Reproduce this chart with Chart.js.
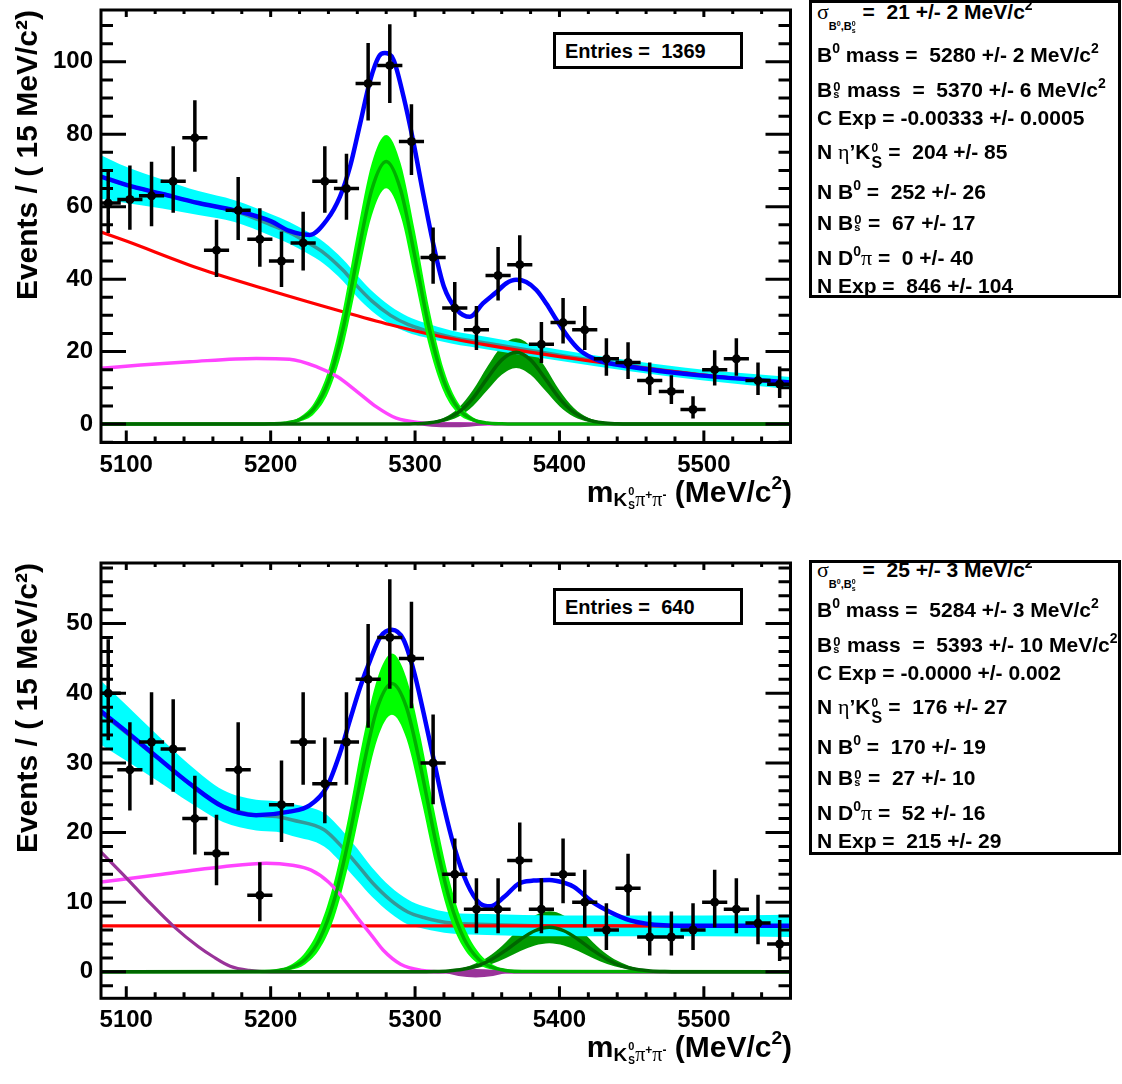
<!DOCTYPE html>
<html lang="en">
<head>
<meta charset="UTF-8">
<title>K0S pi+ pi- mass fits</title>
<script src="https://cdn.jsdelivr.net/npm/chart.js"></script>
<style>
  body { margin: 0; background: #fff; font-family: 'Liberation Sans', Arial, sans-serif; font-weight: bold; color: #000; }
  #page { position: relative; width: 1122px; height: 1084px; overflow: hidden; }
  canvas { position: absolute; left: 0; }
  .box { position: absolute; border: 3px solid #000; box-sizing: border-box; background: #fff; }
  .stats { position: absolute; left: 809px; width: 312px; overflow: hidden; }
  .stats .frame { position: absolute; left: 0; top: 0; right: 0; bottom: 0; border: 3px solid #000; box-sizing: border-box; }
  .ln { position: absolute; left: 8px; font-size: 21px; line-height: 21px; white-space: pre; }
  .sy { font-family: 'Liberation Serif', serif; font-weight: normal; font-size: 22px; }
  .up { position: relative; font-size: 14px; top: -9px; }
  .stk { display: inline-block; position: relative; width: 9px; height: 1px; }
  .stk .a { position: absolute; left: 1px; bottom: 4px; font-size: 13px; line-height: 13px; }
  .stk .b { position: absolute; left: 1px; top: -7px; font-size: 11px; line-height: 11px; }
  .stk.kk { width: 12px; }
  .stk.kk .a { font-size: 12px; line-height: 12px; bottom: 5px; }
  .stk.kk .b { font-size: 16px; line-height: 16px; top: -3px; }
  .s1 { position: relative; top: 11px; font-size: 11px; }
  .s1 .u { position: relative; top: -4px; font-size: 7px; }
  .s1 .k { display: inline-block; position: relative; width: 5px; height: 1px; }
  .s1 .k .a { position: absolute; left: 0; bottom: 3px; font-size: 7px; line-height: 7px; }
  .s1 .k .b { position: absolute; left: 0; top: -2px; font-size: 7px; line-height: 7px; }
  .entries { left: 553px; width: 190px; height: 37px; }
  .entries span { position: absolute; left: 9px; top: 6px; font-size: 20px; line-height: 20px; white-space: pre; }
  .xt { position: absolute; right: 330px; font-size: 30px; line-height: 30px; white-space: pre; }
  .xs { position: relative; top: 4px; font-size: 19px; }
  .xs .sy { font-size: 20px; }
  .xk { display: inline-block; position: relative; width: 8px; height: 1px; }
  .xk .a { position: absolute; left: 1px; bottom: 9px; font-size: 11px; line-height: 11px; }
  .xk .b { position: absolute; left: 1px; top: -4px; font-size: 10px; line-height: 10px; }
  .xu { position: relative; top: -7px; font-size: 12px; }
  .xu2 { position: relative; top: -13px; font-size: 19px; }
</style>
</head>
<body>
<div id="page">
  <canvas id="topChart" width="800" height="545" style="top:0"></canvas>
  <canvas id="botChart" width="800" height="534" style="top:550px"></canvas>

  <div class="box entries" style="top:32px"><span>Entries =  1369</span></div>
  <div class="box entries" style="top:588px"><span>Entries =  640</span></div>

  <div class="xt" style="top:477px">m<span class="xs">K<span class="xk"><span class="a">0</span><span class="b">S</span></span><span class="sy">π</span><span class="xu">+</span><span class="sy">π</span><span class="xu">-</span></span> (MeV/c<span class="xu2">2</span>)</div>
  <div class="xt" style="top:1032px">m<span class="xs">K<span class="xk"><span class="a">0</span><span class="b">S</span></span><span class="sy">π</span><span class="xu">+</span><span class="sy">π</span><span class="xu">-</span></span> (MeV/c<span class="xu2">2</span>)</div>

  <div class="stats" style="top:0;height:298px">
    <div class="frame"></div>
    <div class="ln" style="top:1px"><span class="sy">σ</span><span class="s1">B<span class="u">0</span>,B<span class="k"><span class="a">0</span><span class="b">s</span></span></span> =  21 +/- 2 MeV/c<span class="up">2</span></div>
    <div class="ln" style="top:44px">B<span class="up">0</span> mass =  5280 +/- 2 MeV/c<span class="up">2</span></div>
    <div class="ln" style="top:79px">B<span class="stk"><span class="a">0</span><span class="b">s</span></span> mass  =  5370 +/- 6 MeV/c<span class="up">2</span></div>
    <div class="ln" style="top:107px">C Exp = -0.00333 +/- 0.0005</div>
    <div class="ln" style="top:141px">N <span class="sy">η</span>’K<span class="stk kk"><span class="a">0</span><span class="b">S</span></span> =  204 +/- 85</div>
    <div class="ln" style="top:181px">N B<span class="up">0</span> =  252 +/- 26</div>
    <div class="ln" style="top:212px">N B<span class="stk"><span class="a">0</span><span class="b">s</span></span> =  67 +/- 17</div>
    <div class="ln" style="top:247px">N D<span class="up">0</span><span class="sy">π</span> =  0 +/- 40</div>
    <div class="ln" style="top:275px">N Exp =  846 +/- 104</div>
  </div>

  <div class="stats" style="top:560px;height:295px">
    <div class="frame"></div>
    <div class="ln" style="top:-1px"><span class="sy">σ</span><span class="s1">B<span class="u">0</span>,B<span class="k"><span class="a">0</span><span class="b">s</span></span></span> =  25 +/- 3 MeV/c<span class="up">2</span></div>
    <div class="ln" style="top:39px">B<span class="up">0</span> mass =  5284 +/- 3 MeV/c<span class="up">2</span></div>
    <div class="ln" style="top:74px">B<span class="stk"><span class="a">0</span><span class="b">s</span></span> mass  =  5393 +/- 10 MeV/c<span class="up">2</span></div>
    <div class="ln" style="top:102px">C Exp = -0.0000 +/- 0.002</div>
    <div class="ln" style="top:136px">N <span class="sy">η</span>’K<span class="stk kk"><span class="a">0</span><span class="b">S</span></span> =  176 +/- 27</div>
    <div class="ln" style="top:176px">N B<span class="up">0</span> =  170 +/- 19</div>
    <div class="ln" style="top:207px">N B<span class="stk"><span class="a">0</span><span class="b">s</span></span> =  27 +/- 10</div>
    <div class="ln" style="top:242px">N D<span class="up">0</span><span class="sy">π</span> =  52 +/- 16</div>
    <div class="ln" style="top:270px">N Exp =  215 +/- 29</div>
  </div>
</div>

<script>
// bin centres of the 15 MeV histogram bins
const massBins = [5087.5, 5102.5, 5117.5, 5132.5, 5147.5, 5162.5, 5177.5, 5192.5, 5207.5, 5222.5, 5237.5, 5252.5, 5267.5, 5282.5, 5297.5, 5312.5,
                  5327.5, 5342.5, 5357.5, 5372.5, 5387.5, 5402.5, 5417.5, 5432.5, 5447.5, 5462.5, 5477.5, 5492.5, 5507.5, 5522.5, 5537.5, 5552.5];
const xMajorTicks = [5100, 5200, 5300, 5400, 5500];

// ---- upper plot ----
const topCounts = [61, 62, 63, 67, 79, 48, 59, 51, 45, 50, 67, 65, 94, 99, 78, 46, 32, 26, 41, 44, 22, 28, 26, 18, 17, 12, 9, 4, 15, 18, 12, 11];
const topErrUp  = [8.8, 8.9, 8.9, 9.2, 9.9, 7.9, 8.7, 8.1, 7.7, 8.1, 9.2, 9.1, 10.7, 10.9, 9.8, 7.8, 6.7, 6.1, 7.4, 7.6, 5.7, 6.3, 6.1, 5.2, 5.1, 4.5, 4, 3.2, 4.9, 5.2, 4.5, 4.4];
const topErrLo  = [7.8, 7.9, 7.9, 8.2, 8.9, 6.9, 7.7, 7.1, 6.7, 7.1, 8.2, 8.1, 9.7, 9.9, 8.8, 6.8, 5.7, 5.1, 6.4, 6.6, 4.7, 5.3, 5.1, 4.2, 4.1, 3.5, 3, 2, 3.9, 4.2, 3.5, 3.3];
const topYMajor = [0, 20, 40, 60, 80, 100];

const topTotalX = [5082.5, 5100, 5125, 5150, 5175, 5200, 5213, 5227, 5239, 5248, 5255, 5262, 5269, 5275, 5279, 5285, 5292, 5299, 5306, 5313, 5320,
                   5329, 5338, 5347, 5356, 5363, 5370, 5377, 5384, 5391, 5398, 5406, 5414, 5426, 5449, 5495, 5560];
const topTotalY = [68.3, 66, 63.5, 61, 59, 56, 53.3, 52.2, 56.4, 62.8, 71.1, 83, 95, 101.5, 102.4, 100.6, 90.4, 77.5, 62.8, 49, 37.9,
                   31.5, 29.6, 33.3, 36.3, 38.8, 39.8, 39.2, 37, 33.2, 28.7, 24, 20.4, 17.7, 15.8, 13.5, 11.5];

const topBkgX   = [5082.5, 5100, 5125, 5150, 5175, 5200, 5213, 5225, 5237, 5250, 5260, 5270, 5283, 5295, 5306, 5325, 5350, 5400, 5450, 5500, 5560];
const topBkgMid = [68.2, 66, 63.5, 61, 58.8, 55, 52.8, 50.2, 47.2, 42.5, 38, 34, 30, 27.5, 26, 24, 22.3, 19, 16, 13.5, 11.3];
const topBkgHi  = [74.2, 71, 67.5, 64.3, 61.8, 58, 55.8, 53.2, 50.2, 45.5, 41, 36.8, 32.5, 29.7, 28, 25.8, 24, 20.5, 17.5, 15, 13];
const topBkgLo  = [62.2, 61, 59.5, 57.7, 55.8, 52, 49.8, 47.2, 44.2, 39.5, 35, 31.2, 27.5, 25.3, 24, 22.2, 20.6, 17.5, 14.5, 12, 9.6];

const topExpX = [5082.5, 5100, 5150, 5200, 5250, 5283, 5310, 5350, 5400, 5450, 5500, 5560];
const topExpY = [53, 50.5, 43, 36.8, 31, 27.4, 24.8, 21.8, 18.6, 15.9, 13.5, 11.2];

const topEtaX = [5082.5, 5110, 5144, 5190, 5213, 5232, 5246, 5260, 5273, 5287, 5305, 5320, 5560];
const topEtaY = [15.4, 16.3, 17.2, 18.1, 17.9, 15.8, 13.1, 8.9, 4.8, 1.6, 0.3, 0, 0];

const topB0X   = [5082.5, 5190, 5200, 5210, 5220, 5230, 5240, 5250, 5260, 5270, 5280, 5290, 5300, 5310, 5320, 5330, 5340, 5350, 5360, 5370, 5560];
const topB0Mid = [0, 0, 0.05, 0.28, 1.23, 4.26, 11.8, 26.1, 46, 64.7, 72.5, 64.7, 46, 26.1, 11.8, 4.26, 1.23, 0.28, 0.05, 0, 0];
const topB0Hi  = [0, 0.02, 0.1, 0.5, 1.9, 5.8, 15, 31.5, 53, 72, 79.8, 72, 53, 31.5, 15, 5.8, 1.9, 0.5, 0.1, 0.02, 0];
const topB0Lo  = [0, 0, 0.02, 0.13, 0.7, 2.8, 8.8, 21, 39.5, 57.5, 65.1, 57.5, 39.5, 21, 8.8, 2.8, 0.7, 0.13, 0.02, 0, 0];

const topBsX   = [5082.5, 5280, 5290, 5300, 5310, 5320, 5330, 5340, 5350, 5360, 5370, 5380, 5390, 5400, 5410, 5420, 5430, 5440, 5450, 5460, 5560];
const topBsMid = [0, 0, 0.01, 0.08, 0.33, 1.16, 3.2, 7.1, 12.6, 17.7, 19.8, 17.7, 12.6, 7.1, 3.2, 1.16, 0.33, 0.08, 0.01, 0, 0];
const topBsHi  = [0, 0, 0.03, 0.14, 0.55, 1.7, 4.4, 9.3, 15.8, 21.5, 23.7, 21.5, 15.8, 9.3, 4.4, 1.7, 0.55, 0.14, 0.03, 0, 0];
const topBsLo  = [0, 0, 0, 0.03, 0.15, 0.6, 2, 4.9, 9.3, 13.6, 15.5, 13.6, 9.3, 4.9, 2, 0.6, 0.15, 0.03, 0, 0, 0];

const topD0X  = [5292, 5305, 5318, 5331, 5344, 5357];
const topD0Hi = [0, 0.3, 0.5, 0.5, 0.3, 0];
const topD0Lo = [0, -0.5, -0.9, -0.9, -0.5, 0];

// ---- lower plot ----
const botCounts = [40, 29, 33, 32, 22, 17, 29, 11, 24, 33, 27, 33, 42, 48, 45, 30, 14, 9, 9, 16, 9, 14, 10, 6, 12, 5, 5, 6, 10, 9, 7, 4];
const botErrUp  = [7.5, 6.6, 6.9, 6.9, 5.9, 5.3, 6.6, 4.5, 6.1, 6.9, 6.4, 6.9, 7.7, 8.1, 7.9, 6.7, 4.9, 4.2, 4.2, 5.2, 4.2, 4.9, 4.4, 3.6, 4.7, 3.4, 3.4, 3.6, 4.4, 4.2, 3.8, 3.2];
const botErrLo  = [6.5, 5.6, 5.9, 5.9, 4.9, 4.3, 5.6, 3.5, 5.1, 5.9, 5.4, 5.9, 6.7, 7.1, 6.9, 5.7, 3.9, 3.2, 3.2, 4.2, 3.2, 3.9, 3.4, 2.6, 3.7, 2.4, 2.4, 2.6, 3.4, 3.2, 2.8, 2.2];
const botYMajor = [0, 10, 20, 30, 40, 50];

const botTotalX = [5082.5, 5100, 5121, 5144, 5167, 5190, 5213, 5227, 5239, 5248, 5255, 5262, 5269, 5276, 5284, 5292, 5299, 5306, 5313, 5320,
                   5327, 5336, 5345, 5352, 5362, 5372, 5382, 5393, 5403, 5410, 5423, 5435, 5449, 5472, 5510, 5560];
const botTotalY = [37.4, 34.5, 30.9, 27, 23.7, 22.5, 23, 23.9, 26.6, 31.4, 36.2, 40.9, 44.8, 48.1, 49.1, 47.7, 43.3, 37.1, 30.4, 23.7,
                   18, 12.7, 9.8, 9.4, 10.8, 12.7, 13.1, 13.2, 12.8, 12.2, 10, 8.6, 7.4, 6.7, 6.6, 6.6];

const botBkgX   = [5082.5, 5100, 5121, 5144, 5167, 5190, 5204, 5215, 5237, 5250, 5260, 5270, 5283, 5295, 5306, 5325, 5350, 5400, 5450, 5500, 5560];
const botBkgMid = [37.2, 34.3, 30.8, 27, 23.8, 22.5, 22.3, 21.8, 20.4, 17.8, 15.4, 12.9, 10.3, 8.6, 7.8, 7.0, 6.8, 6.6, 6.6, 6.6, 6.6];
const botBkgHi  = [41.8, 38.3, 34.1, 29.7, 26.1, 24.7, 24.5, 24.1, 22.8, 20.2, 17.7, 15, 12.2, 10.4, 9.4, 8.5, 8.3, 8.1, 8.1, 8.1, 8.2];
const botBkgLo  = [32.6, 30.3, 27.5, 24.3, 21.5, 20.3, 20.1, 19.5, 18, 15.4, 13.1, 10.8, 8.4, 6.8, 6.2, 5.5, 5.3, 5.1, 5.1, 5.1, 5.0];

const botExpX = [5082.5, 5560];
const botExpY = [6.6, 6.6];

const botEtaX = [5082.5, 5121, 5167, 5197, 5215, 5228, 5240, 5250, 5260, 5270, 5278, 5290, 5305, 5320, 5560];
const botEtaY = [12.9, 13.9, 15.1, 15.6, 15.3, 14.6, 12.9, 10.6, 7.8, 5.2, 3.1, 1.1, 0.2, 0, 0];

const botD0LineX = [5082.5, 5100, 5115, 5133, 5150, 5160, 5172, 5185, 5200, 5560];
const botD0LineY = [17.2, 13.5, 10.2, 6.5, 3.6, 2.2, 0.8, 0.2, 0, 0];

const botB0X   = [5082.5, 5194, 5204, 5214, 5224, 5234, 5244, 5254, 5264, 5274, 5284, 5294, 5304, 5314, 5324, 5334, 5344, 5354, 5364, 5374, 5560];
const botB0Mid = [0, 0.04, 0.16, 0.59, 1.8, 4.7, 10.3, 19, 29.3, 38, 41.4, 38, 29.3, 19, 10.3, 4.7, 1.8, 0.59, 0.16, 0.04, 0];
const botB0Hi  = [0, 0.08, 0.3, 1, 2.8, 6.5, 13, 22.5, 33.5, 42.2, 45.7, 42.2, 33.5, 22.5, 13, 6.5, 2.8, 1, 0.3, 0.08, 0];
const botB0Lo  = [0, 0.01, 0.07, 0.3, 1.1, 3.3, 7.8, 15.5, 25, 33.5, 36.9, 33.5, 25, 15.5, 7.8, 3.3, 1.1, 0.3, 0.07, 0.01, 0];

const botBsX   = [5082.5, 5303, 5313, 5323, 5333, 5343, 5353, 5363, 5373, 5383, 5393, 5403, 5413, 5423, 5433, 5443, 5453, 5463, 5473, 5483, 5560];
const botBsMid = [0, 0.01, 0.04, 0.13, 0.36, 0.86, 1.78, 3.12, 4.65, 5.9, 6.4, 5.9, 4.65, 3.12, 1.78, 0.86, 0.36, 0.13, 0.04, 0.01, 0];
const botBsHi  = [0, 0.02, 0.06, 0.2, 0.55, 1.3, 2.5, 4.3, 6.4, 8.1, 8.7, 8.1, 6.4, 4.3, 2.5, 1.3, 0.55, 0.2, 0.06, 0.02, 0];
const botBsLo  = [0, 0, 0.02, 0.08, 0.23, 0.55, 1.14, 2, 2.98, 3.78, 4.1, 3.78, 2.98, 2, 1.14, 0.55, 0.23, 0.08, 0.02, 0, 0];

const botD0X  = [5318, 5330, 5342, 5354, 5366];
const botD0Hi = [0, 0.3, 0.4, 0.3, 0];
const botD0Lo = [0, -0.6, -0.8, -0.6, 0];

const FONT = "'Liberation Sans', Arial, Helvetica, sans-serif";
Chart.defaults.font.family = FONT;

const pts = (xs, ys) => xs.map((x, i) => ({x: x, y: ys[i]}));

function curve(xs, ys, color, width, order) {
    return {data: pts(xs, ys), borderColor: color, borderWidth: width, pointRadius: 0, fill: false,
            cubicInterpolationMode: 'monotone', order: order};
}

// two datasets: upper one fills down to the next one
function band(xs, hi, lo, color, order) {
    return [
        {data: pts(xs, hi), borderColor: 'rgba(0,0,0,0)', borderWidth: 0, pointRadius: 0, fill: '+1',
         backgroundColor: color, cubicInterpolationMode: 'monotone', order: order},
        {data: pts(xs, lo), borderColor: 'rgba(0,0,0,0)', borderWidth: 0, pointRadius: 0, fill: false,
         cubicInterpolationMode: 'monotone', order: order + 0.5}
    ];
}

function errorBarsPlugin(counts, up, lo) {
    return {
        id: 'errorBars',
        afterDatasetsDraw(chart) {
            const {ctx, chartArea: a} = chart;
            const xs = chart.scales.x, ys = chart.scales.y;
            ctx.save();
            ctx.beginPath();
            ctx.rect(a.left, a.top, a.right - a.left, a.bottom - a.top);
            ctx.clip();
            ctx.strokeStyle = '#000';
            ctx.lineWidth = 3.5;
            ctx.lineCap = 'square';
            ctx.beginPath();
            massBins.forEach((m, i) => {
                const px = xs.getPixelForValue(m);
                const py = ys.getPixelForValue(counts[i]);
                ctx.moveTo(px, ys.getPixelForValue(counts[i] + up[i]));
                ctx.lineTo(px, ys.getPixelForValue(counts[i] - lo[i]));
                ctx.moveTo(xs.getPixelForValue(m - 7.5), py);
                ctx.lineTo(xs.getPixelForValue(m + 7.5), py);
            });
            ctx.stroke();
            ctx.restore();
        }
    };
}

// frame with inward ticks on all four sides, ROOT style
function framePlugin(yMajor, yMinorStep) {
    return {
        id: 'rootFrame',
        afterDatasetsDraw(chart) {
            const {ctx, chartArea: a} = chart;
            const xs = chart.scales.x, ys = chart.scales.y;
            ctx.save();
            ctx.strokeStyle = '#000';
            ctx.lineWidth = 3;
            ctx.beginPath();
            for (let v = Math.ceil(xs.min / 20) * 20; v < xs.max; v += 20) {
                const p = xs.getPixelForValue(v);
                const big = xMajorTicks.includes(v);
                ctx.moveTo(p, a.bottom); ctx.lineTo(p, a.bottom - (big ? 12 : 6));
                ctx.moveTo(p, a.top); ctx.lineTo(p, a.top + (big ? 7 : 4));
            }
            for (let v = Math.ceil(ys.min / yMinorStep) * yMinorStep; v < ys.max; v += yMinorStep) {
                const p = ys.getPixelForValue(v);
                const len = yMajor.includes(v) ? 25 : 12;
                ctx.moveTo(a.left, p); ctx.lineTo(a.left + len, p);
                ctx.moveTo(a.right, p); ctx.lineTo(a.right - len, p);
            }
            ctx.stroke();
            ctx.strokeRect(a.left, a.top, a.right - a.left, a.bottom - a.top);
            ctx.restore();
        }
    };
}

function makePanel(id, p) {
    const datasets = [
        {data: pts(massBins, p.counts), showLine: false, pointRadius: 4.5, pointBackgroundColor: '#000',
         pointBorderColor: '#000', pointBorderWidth: 0, order: 0},
        curve(p.totalX, p.totalY, '#0000ff', 4.5, 10),
        curve(p.bsX, p.bsMid, '#006600', 3.5, 20),
        curve(p.b0X, p.b0Mid, '#00b000', 3.5, 21),
        ...band(p.d0X, p.d0Hi, p.d0Lo, '#993399', 22),
        curve(p.etaX, p.etaY, '#ff44ff', 3.5, 24),
        ...band(p.b0X, p.b0Hi, p.b0Lo, '#00ff00', 25),
        curve(p.expX, p.expY, '#ff0000', 3.2, 26),
        curve(p.bkgX, p.bkgMid, '#339999', 3.5, 27),
        ...band(p.bkgX, p.bkgHi, p.bkgLo, '#00ffff', 28),
        ...band(p.bsX, p.bsHi, p.bsLo, '#009900', 30)
    ];
    if (p.d0LineX) datasets.push(curve(p.d0LineX, p.d0LineY, '#993399', 3.2, 23));

    return new Chart(document.getElementById(id), {
        type: 'line',
        data: {datasets: datasets},
        options: {
            responsive: false,
            animation: false,
            devicePixelRatio: 1,
            layout: {padding: {top: p.padTop, right: 9.5, left: 0, bottom: 0}, autoPadding: false},
            plugins: {legend: {display: false}, tooltip: {enabled: false}},
            scales: {
                x: {
                    type: 'linear', min: 5082.5, max: 5560,
                    grid: {display: false, drawTicks: false}, border: {display: false},
                    ticks: {stepSize: 100, includeBounds: false, autoSkip: false, maxRotation: 0, padding: 8,
                            color: '#000', font: {size: 24, weight: 'bold'}, callback: (v) => String(v)},
                    afterFit: (s) => { s.height = p.xHeight; s.paddingLeft = 0; s.paddingRight = 0; }
                },
                y: {
                    type: 'linear', min: p.yMin, max: p.yMax,
                    grid: {display: false, drawTicks: false}, border: {display: false},
                    ticks: {stepSize: p.yStep, includeBounds: false, autoSkip: false, padding: 8,
                            color: '#000', font: {size: 24, weight: 'bold'}, callback: (v) => String(v)},
                    title: {display: true, text: 'Events / ( 15 MeV/c²)', align: 'end', color: '#000',
                            font: {size: 30, weight: 'bold'}, padding: {top: 11, bottom: 0}},
                    afterFit: (s) => { s.width = 101; s.paddingTop = 0; s.paddingBottom = 0; }
                }
            }
        },
        plugins: [errorBarsPlugin(p.counts, p.errUp, p.errLo), framePlugin(p.yMajor, p.yMinor)]
    });
}

makePanel('topChart', {
    padTop: 10, xHeight: 102.5, yMin: -5.1, yMax: 114.3, yStep: 20, yMajor: topYMajor, yMinor: 5,
    counts: topCounts, errUp: topErrUp, errLo: topErrLo,
    totalX: topTotalX, totalY: topTotalY,
    bkgX: topBkgX, bkgMid: topBkgMid, bkgHi: topBkgHi, bkgLo: topBkgLo,
    expX: topExpX, expY: topExpY, etaX: topEtaX, etaY: topEtaY,
    b0X: topB0X, b0Mid: topB0Mid, b0Hi: topB0Hi, b0Lo: topB0Lo,
    bsX: topBsX, bsMid: topBsMid, bsHi: topBsHi, bsLo: topBsLo,
    d0X: topD0X, d0Hi: topD0Hi, d0Lo: topD0Lo
});

makePanel('botChart', {
    padTop: 13, xHeight: 85.7, yMin: -3.8, yMax: 58.7, yStep: 10, yMajor: botYMajor, yMinor: 2,
    counts: botCounts, errUp: botErrUp, errLo: botErrLo,
    totalX: botTotalX, totalY: botTotalY,
    bkgX: botBkgX, bkgMid: botBkgMid, bkgHi: botBkgHi, bkgLo: botBkgLo,
    expX: botExpX, expY: botExpY, etaX: botEtaX, etaY: botEtaY,
    b0X: botB0X, b0Mid: botB0Mid, b0Hi: botB0Hi, b0Lo: botB0Lo,
    bsX: botBsX, bsMid: botBsMid, bsHi: botBsHi, bsLo: botBsLo,
    d0X: botD0X, d0Hi: botD0Hi, d0Lo: botD0Lo,
    d0LineX: botD0LineX, d0LineY: botD0LineY
});
</script>
</body>
</html>
